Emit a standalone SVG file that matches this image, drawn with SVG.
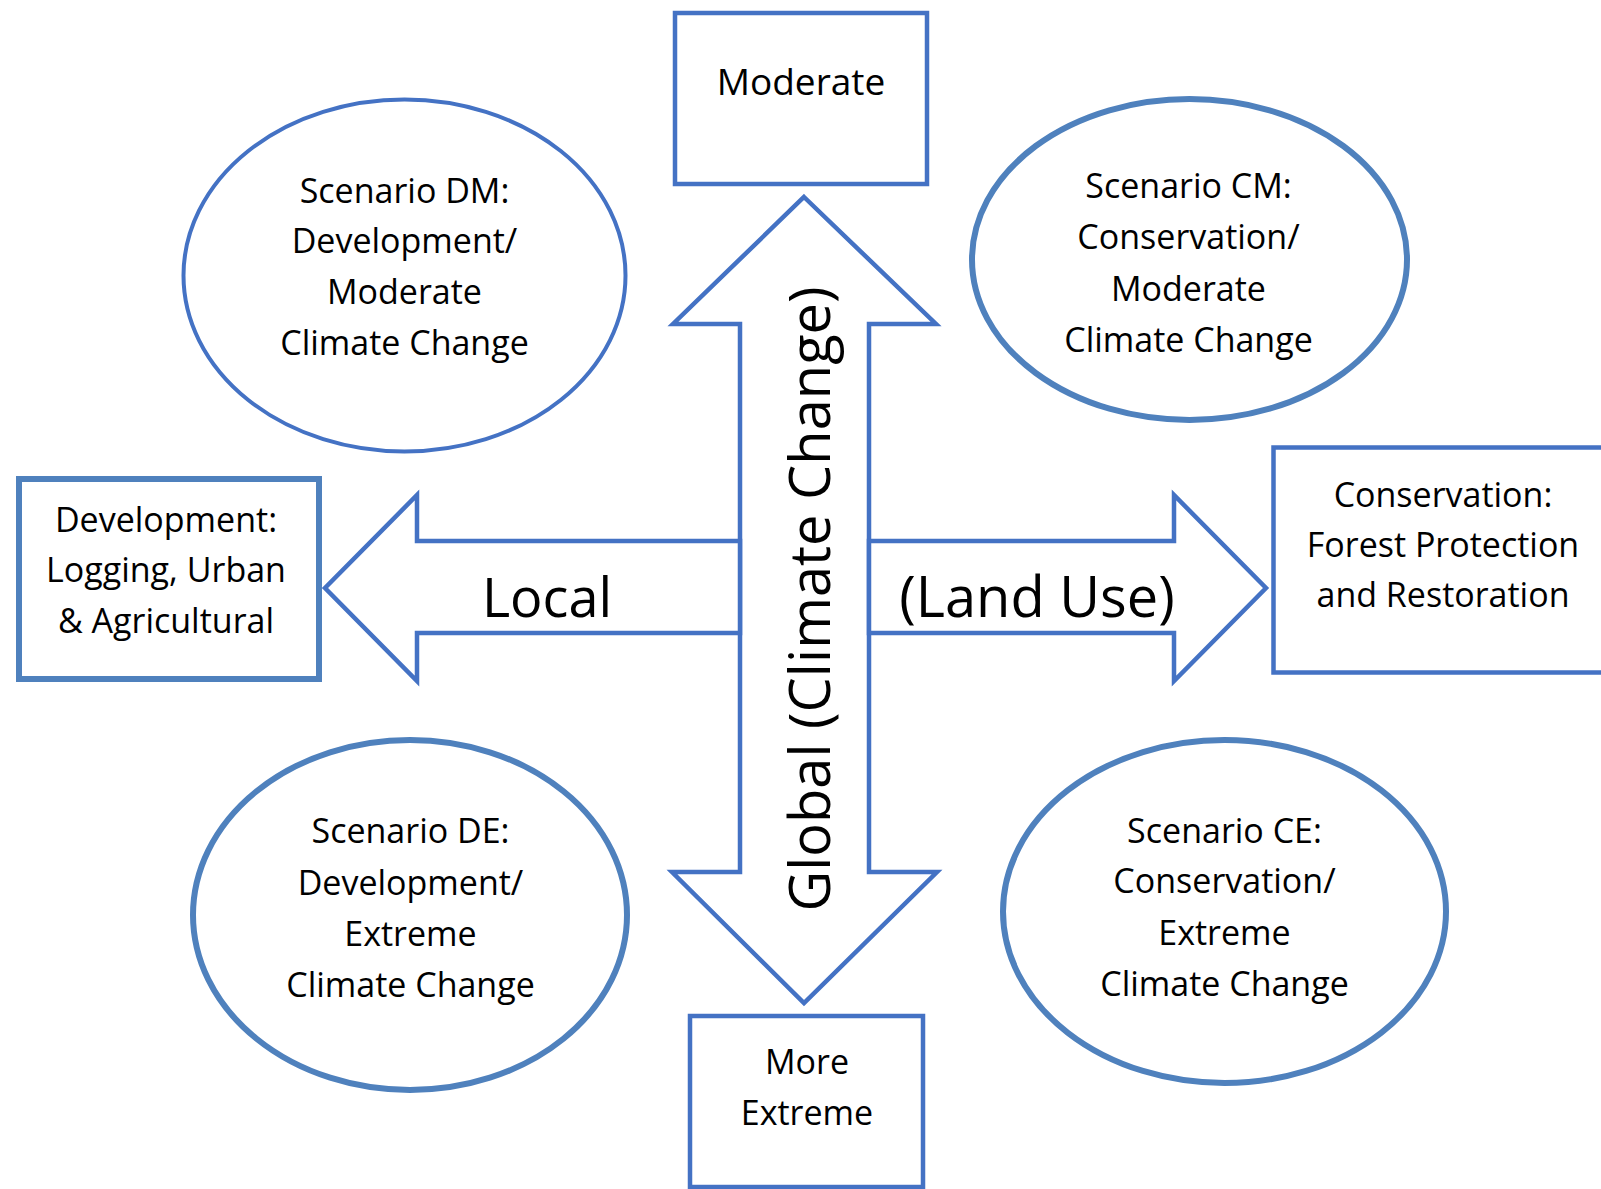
<svg xmlns="http://www.w3.org/2000/svg" width="1601" height="1189" viewBox="0 0 1601 1189">
  <style>
    .bg { fill: #ffffff; }
    .box { fill: #ffffff; stroke: #4472C4; stroke-width: 4.5; }
    .box-alt { fill: #ffffff; stroke: #4F81BD; stroke-width: 6; }
    .oval { fill: #ffffff; stroke: #4472C4; stroke-width: 4; }
    .oval-alt { fill: #ffffff; stroke: #4F81BD; stroke-width: 6; }
    .arrow { fill: #ffffff; stroke: #4472C4; stroke-width: 4.5; stroke-linejoin: miter; }
    text { font-family: "Open Sans", "Liberation Sans", sans-serif; fill: #000000; text-anchor: middle; }
    .t { font-size: 34px; }
    .t-lg { font-size: 37px; }
    .axis { font-size: 54px; }
    .axis-wide { font-size: 56px; }
  </style>

  <rect class="bg" x="0" y="0" width="1601" height="1189"/>

  <!-- axis arrows -->
  <g id="connectors">
    <polygon id="axis-global" class="arrow" points="804,197 936,324 869,324 869,872 937,872 804,1003 672,872 740,872 740,324 673,324"/>
    <polygon id="axis-local" class="arrow" points="740,541 417,541 417,495 325,588 417,681 417,633 740,633"/>
    <polygon id="axis-landuse" class="arrow" points="869,541 1174,541 1174,495 1266,588 1174,681 1174,633 869,633"/>
    <text class="axis" x="547" y="617">Local</text>
    <text class="axis-wide" x="1037" y="617">(Land Use)</text>
    <text class="axis-wide" transform="translate(830,599) rotate(-90)" x="0" y="0">Global (Climate Change)</text>
  </g>

  <!-- end-point boxes -->
  <g id="node-moderate">
    <rect class="box" x="675" y="13" width="252" height="171"/>
    <text class="t-lg" x="801" y="95">Moderate</text>
  </g>

  <g id="node-more-extreme">
    <rect class="box" x="690" y="1016" width="233" height="171"/>
    <text class="t" x="807" y="1074">More</text>
    <text class="t" x="807" y="1125">Extreme</text>
  </g>

  <g id="node-development">
    <rect class="box-alt" x="19" y="479" width="300" height="200"/>
    <text class="t" x="166" y="532">Development:</text>
    <text class="t" x="166" y="582">Logging, Urban</text>
    <text class="t" x="166" y="633">&amp; Agricultural</text>
  </g>

  <g id="node-conservation">
    <rect class="box" x="1273.5" y="447.5" width="400" height="225"/>
    <text class="t" x="1443" y="507">Conservation:</text>
    <text class="t" x="1443" y="557">Forest Protection</text>
    <text class="t" x="1443" y="607">and Restoration</text>
  </g>

  <!-- scenario ovals -->
  <g id="node-scenario-dm">
    <ellipse class="oval" cx="404.5" cy="275.5" rx="221" ry="176"/>
    <text class="t" x="404.5" y="203">Scenario DM:</text>
    <text class="t" x="404.5" y="253">Development/</text>
    <text class="t" x="404.5" y="304">Moderate</text>
    <text class="t" x="404.5" y="355">Climate Change</text>
  </g>

  <g id="node-scenario-cm">
    <ellipse class="oval-alt" cx="1189.5" cy="259.5" rx="217.5" ry="160.5"/>
    <text class="t" x="1188.5" y="198">Scenario CM:</text>
    <text class="t" x="1188.5" y="249">Conservation/</text>
    <text class="t" x="1188.5" y="301">Moderate</text>
    <text class="t" x="1188.5" y="352">Climate Change</text>
  </g>

  <g id="node-scenario-de">
    <ellipse class="oval-alt" cx="410" cy="915" rx="217" ry="175"/>
    <text class="t" x="410.5" y="843">Scenario DE:</text>
    <text class="t" x="410.5" y="895">Development/</text>
    <text class="t" x="410.5" y="946">Extreme</text>
    <text class="t" x="410.5" y="997">Climate Change</text>
  </g>

  <g id="node-scenario-ce">
    <ellipse class="oval-alt" cx="1224.5" cy="911.5" rx="221.5" ry="171.5"/>
    <text class="t" x="1224.5" y="843">Scenario CE:</text>
    <text class="t" x="1224.5" y="893">Conservation/</text>
    <text class="t" x="1224.5" y="945">Extreme</text>
    <text class="t" x="1224.5" y="996">Climate Change</text>
  </g>
</svg>
